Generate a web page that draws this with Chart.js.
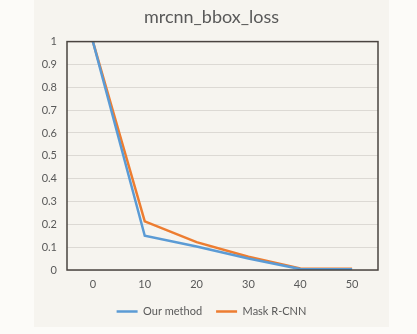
<!DOCTYPE html>
<html>
<head>
<meta charset="utf-8">
<script src="https://cdn.jsdelivr.net/npm/chart.js@4/dist/chart.umd.min.js"></script>
<style>
  html, body { margin: 0; padding: 0; background: #fcfbf8; }
  #panel { position: absolute; left: 34px; top: 0; width: 355px; height: 327px; background: #f6f4ef; }
  canvas { display: block; }
</style>
</head>
<body>
<div id="panel"><canvas id="lossChart" width="355" height="327"></canvas></div>
<script>
// loss per epoch
const epochs = ['0', '10', '20', '30', '40', '50'];
const ourMethod = [1, 0.15, 0.103, 0.05, 0.004, 0.003];
const maskRcnn = [1, 0.213, 0.122, 0.058, 0.007, 0.005];
const yTicks = [0, 0.1, 0.2, 0.3, 0.4, 0.5, 0.6, 0.7, 0.8, 0.9, 1];

const textColor = '#595959';
const fontFamily = 'Lato, "Open Sans", sans-serif';

// dark frame around the plot area
const frame = {
    id: 'frame',
    afterDatasetsDraw(chart) {
        const a = chart.chartArea, ctx = chart.ctx;
        ctx.save();
        ctx.strokeStyle = '#4a4440';
        ctx.lineWidth = 1.5;
        ctx.strokeRect(a.left, a.top, a.right - a.left, a.bottom - a.top);
        ctx.restore();
    }
};

new Chart(document.getElementById('lossChart').getContext('2d'), {
    type: 'line',
    data: {
        labels: epochs,
        datasets: [
            { label: 'Our method', data: ourMethod, borderColor: '#5b9bd5', backgroundColor: '#5b9bd5', borderWidth: 2.5, pointRadius: 0, tension: 0 },
            { label: 'Mask R-CNN', data: maskRcnn, borderColor: '#ed7d31', backgroundColor: '#ed7d31', borderWidth: 2.5, pointRadius: 0, tension: 0 }
        ]
    },
    options: {
        responsive: false,
        animation: false,
        layout: { padding: 0 },
        plugins: {
            title: { display: true, text: 'mrcnn_bbox_loss', color: textColor, font: { family: fontFamily, size: 18, weight: 'normal' }, padding: { top: 6, bottom: 14 } },
            legend: {
                position: 'bottom',
                labels: { usePointStyle: true, pointStyle: 'line', pointStyleWidth: 21, boxWidth: 21, color: textColor, font: { family: fontFamily, size: 11 }, padding: 14 }
            },
            tooltip: { enabled: false }
        },
        scales: {
            x: {
                offset: true,
                grid: { display: false, offset: true },
                border: { display: false },
                ticks: { color: textColor, font: { family: fontFamily, size: 11 }, padding: 0, maxRotation: 0 },
                afterFit(s) { s.height = 22; }
            },
            y: {
                min: 0, max: 1,
                grid: { color: '#dcd9d4', lineWidth: 1, drawTicks: false },
                border: { display: false },
                afterBuildTicks(s) { s.ticks = yTicks.map(v => ({ value: v })); },
                ticks: { color: textColor, font: { family: fontFamily, size: 11 }, padding: 10, callback: v => String(v) },
                afterFit(s) { s.width = 33; }
            },
            // empty right-hand margin so title and legend stay centred on the panel
            yRight: {
                position: 'right',
                grid: { display: false },
                border: { display: false },
                ticks: { display: false },
                afterFit(s) { s.width = 11; }
            }
        }
    },
    plugins: [frame]
});
</script>
</body>
</html>
